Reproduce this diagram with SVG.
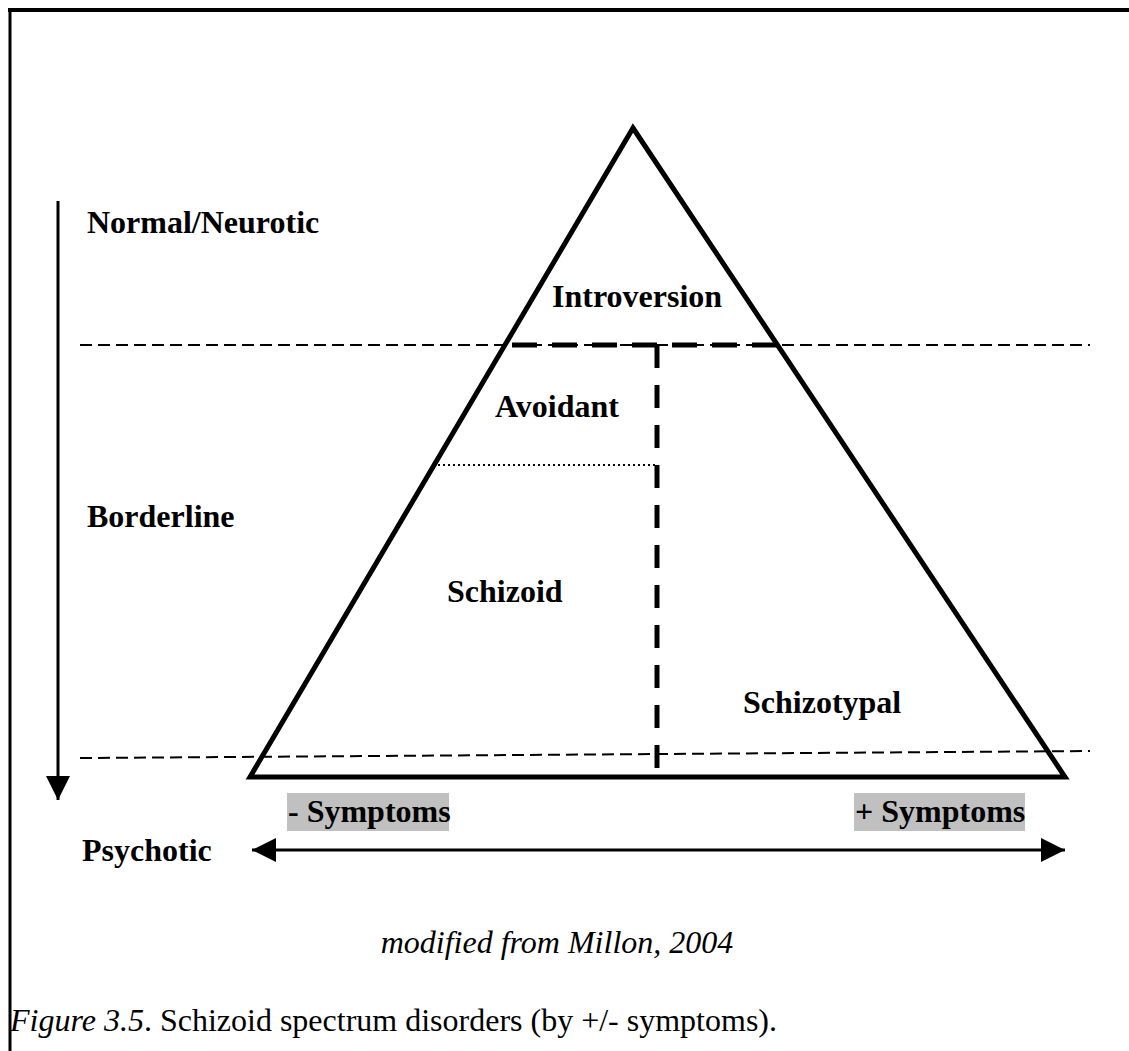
<svg xmlns="http://www.w3.org/2000/svg" width="1129" height="1051" viewBox="0 0 1129 1051">
<style>
.lbl{font-family:"Liberation Serif","Times New Roman",serif;font-weight:bold;font-size:32px;fill:#000}
.cap{font-family:"Liberation Serif","Times New Roman",serif;font-size:32px;fill:#000}
.ln{stroke:#000;fill:none}
</style>
<defs>
<marker id="ah" viewBox="0 0 10 10" refX="10" refY="5" markerWidth="8" markerHeight="8" orient="auto-start-reverse" markerUnits="strokeWidth">
<path d="M0,0 L10,5 L0,10 z" fill="#000"/>
</marker>
</defs>
<rect width="1129" height="1051" fill="#fff"/>
<g id="frame">
<line class="ln" x1="8" y1="10" x2="1129" y2="10" stroke-width="4"/>
<line class="ln" x1="10" y1="8" x2="10" y2="1051" stroke-width="3"/>
</g>
<g id="connectors">
<line class="ln" x1="58" y1="201" x2="58" y2="800" stroke-width="3" marker-end="url(#ah)"/>
<line class="ln" x1="252" y1="850" x2="1065" y2="850" stroke-width="3" marker-start="url(#ah)" marker-end="url(#ah)"/>
<line class="ln" x1="80" y1="345" x2="1090" y2="345" stroke-width="2" stroke-dasharray="12 6"/>
<line class="ln" x1="80" y1="758" x2="1090" y2="751" stroke-width="2" stroke-dasharray="12 6"/>
<line class="ln" x1="512" y1="345" x2="777" y2="345" stroke-width="5" stroke-dasharray="25 15"/>
<line class="ln" x1="657" y1="345" x2="657" y2="773" stroke-width="5" stroke-dasharray="23 17"/>
<line class="ln" x1="438" y1="465" x2="655" y2="465" stroke-width="2" stroke-dasharray="2 3"/>
</g>
<g id="pyramid">
<polygon class="ln" points="633,128 1065,777 250,777" stroke-width="5"/>
</g>
<g id="node-introversion"><text class="lbl" x="552" y="307">Introversion</text></g>
<g id="node-avoidant"><text class="lbl" x="495" y="417">Avoidant</text></g>
<g id="node-schizoid"><text class="lbl" x="447" y="602">Schizoid</text></g>
<g id="node-schizotypal"><text class="lbl" x="743" y="713">Schizotypal</text></g>
<g id="level-normal"><text class="lbl" x="87" y="233">Normal/Neurotic</text></g>
<g id="level-borderline"><text class="lbl" x="87" y="527">Borderline</text></g>
<g id="level-psychotic"><text class="lbl" x="82" y="861">Psychotic</text></g>
<g id="neg-symptoms">
<rect x="287" y="793" width="162" height="38" fill="#c0c0c0"/>
<text class="lbl" x="288" y="822">- Symptoms</text>
</g>
<g id="pos-symptoms">
<rect x="854" y="793" width="171" height="38" fill="#c0c0c0"/>
<text class="lbl" x="855" y="822">+ Symptoms</text>
</g>
<g id="captions">
<text class="cap" x="557" y="953" text-anchor="middle" font-style="italic">modified from Millon, 2004</text>
<text class="cap" x="10" y="1031"><tspan font-style="italic">Figure 3.5</tspan>. Schizoid spectrum disorders (by +/- symptoms).</text>
</g>
</svg>
